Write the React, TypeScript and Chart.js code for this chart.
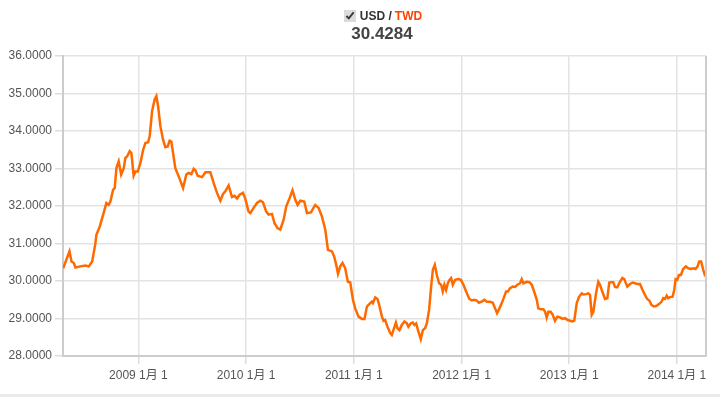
import React, { useEffect, useRef } from "react";
import { Chart, registerables } from "chart.js";

Chart.register(...registerables);

// decimal-year positions of the traced samples
const dates: number[] = [
  2008.302, 2008.36, 2008.379, 2008.4, 2008.416, 2008.462, 2008.508, 2008.539, 2008.571, 2008.601,
  2008.61, 2008.641, 2008.673, 2008.703, 2008.724, 2008.74, 2008.765, 2008.78, 2008.796, 2008.817,
  2008.84, 2008.864, 2008.879, 2008.895, 2008.919, 2008.935, 2008.956, 2008.972, 2008.994, 2009.019,
  2009.044, 2009.065, 2009.09, 2009.105, 2009.127, 2009.151, 2009.167, 2009.183, 2009.204, 2009.229,
  2009.25, 2009.272, 2009.29, 2009.306, 2009.343, 2009.374, 2009.415, 2009.445, 2009.467, 2009.492,
  2009.513, 2009.529, 2009.55, 2009.591, 2009.622, 2009.668, 2009.699, 2009.73, 2009.761, 2009.786,
  2009.807, 2009.838, 2009.869, 2009.891, 2009.916, 2009.94, 2009.971, 2009.993, 2010.023, 2010.039,
  2010.07, 2010.101, 2010.132, 2010.157, 2010.187, 2010.209, 2010.24, 2010.264, 2010.292, 2010.317,
  2010.348, 2010.373, 2010.404, 2010.431, 2010.456, 2010.478, 2010.503, 2010.54, 2010.565, 2010.602,
  2010.642, 2010.673, 2010.704, 2010.735, 2010.76, 2010.797, 2010.818, 2010.837, 2010.853, 2010.874,
  2010.895, 2010.92, 2010.945, 2010.967, 2010.992, 2011.013, 2011.044, 2011.075, 2011.099, 2011.122,
  2011.136, 2011.152, 2011.168, 2011.177, 2011.199, 2011.22, 2011.236, 2011.261, 2011.276, 2011.291,
  2011.313, 2011.338, 2011.353, 2011.368, 2011.391, 2011.405, 2011.424, 2011.446, 2011.47, 2011.493,
  2011.507, 2011.53, 2011.548, 2011.563, 2011.579, 2011.6, 2011.622, 2011.641, 2011.662, 2011.678,
  2011.699, 2011.718, 2011.734, 2011.752, 2011.771, 2011.792, 2011.811, 2011.826, 2011.841, 2011.857,
  2011.873, 2011.888, 2011.904, 2011.919, 2011.941, 2011.971, 2011.994, 2012.018, 2012.043, 2012.073,
  2012.096, 2012.117, 2012.142, 2012.161, 2012.188, 2012.212, 2012.235, 2012.265, 2012.29, 2012.312,
  2012.33, 2012.352, 2012.374, 2012.395, 2012.414, 2012.43, 2012.451, 2012.476, 2012.497, 2012.519,
  2012.544, 2012.559, 2012.574, 2012.606, 2012.63, 2012.652, 2012.674, 2012.699, 2012.713, 2012.736,
  2012.76, 2012.776, 2012.791, 2012.806, 2012.828, 2012.847, 2012.868, 2012.89, 2012.915, 2012.94,
  2012.961, 2012.986, 2013.007, 2013.032, 2013.047, 2013.07, 2013.091, 2013.116, 2013.131, 2013.156,
  2013.177, 2013.193, 2013.209, 2013.224, 2013.249, 2013.27, 2013.286, 2013.307, 2013.332, 2013.354,
  2013.372, 2013.394, 2013.409, 2013.425, 2013.446, 2013.471, 2013.493, 2013.511, 2013.539, 2013.564,
  2013.589, 2013.61, 2013.632, 2013.657, 2013.678, 2013.703, 2013.724, 2013.743, 2013.765, 2013.787,
  2013.812, 2013.836, 2013.858, 2013.873, 2013.889, 2013.905, 2013.919, 2013.935, 2013.96, 2013.975,
  2013.988, 2014.003, 2014.019, 2014.037, 2014.058, 2014.083, 2014.105, 2014.13, 2014.151, 2014.173,
  2014.192, 2014.207, 2014.225, 2014.244, 2014.263,
];

// USD/TWD rate at each sample
const rates: number[] = [
  30.34, 30.79, 30.52, 30.48, 30.36, 30.39, 30.41, 30.39, 30.52, 31.01,
  31.23, 31.45, 31.77, 32.08, 32.03, 32.12, 32.43, 32.48, 33.01, 33.19,
  32.84, 33.01, 33.28, 33.32, 33.46, 33.41, 32.81, 32.92, 32.92, 33.15,
  33.5, 33.68, 33.7, 33.86, 34.53, 34.84, 34.93, 34.66, 34.13, 33.77,
  33.57, 33.59, 33.74, 33.72, 33.01, 32.79, 32.48, 32.84, 32.88, 32.85,
  32.99, 32.95, 32.81, 32.77, 32.9, 32.9, 32.61, 32.35, 32.14, 32.32,
  32.39, 32.55, 32.24, 32.27, 32.2, 32.3, 32.35, 32.19, 31.85, 31.81,
  31.95, 32.08, 32.14, 32.1, 31.85, 31.77, 31.79, 31.54, 31.41, 31.37,
  31.63, 31.99, 32.21, 32.42, 32.17, 32.03, 32.14, 32.12, 31.81, 31.83,
  32.03, 31.95, 31.72, 31.37, 30.83, 30.79, 30.65, 30.43, 30.19, 30.39,
  30.48, 30.34, 29.98, 29.96, 29.5, 29.27, 29.05, 28.99, 28.99, 29.32,
  29.36, 29.41, 29.45, 29.41, 29.56, 29.52, 29.36, 29.05, 28.94, 28.96,
  28.78, 28.61, 28.56, 28.69, 28.89, 28.74, 28.69, 28.83, 28.92, 28.87,
  28.78, 28.87, 28.89, 28.83, 28.87, 28.65, 28.45, 28.69, 28.74, 28.87,
  29.23, 29.85, 30.3, 30.43, 30.16, 29.94, 29.9, 29.72, 29.9, 29.76,
  29.94, 30.03, 30.08, 29.9, 30.03, 30.05, 30.03, 29.9, 29.72, 29.52,
  29.48, 29.5, 29.48, 29.42, 29.45, 29.5, 29.45, 29.45, 29.42, 29.27,
  29.14, 29.27, 29.41, 29.57, 29.72, 29.72, 29.81, 29.85, 29.84, 29.9,
  29.94, 30.05, 29.94, 29.98, 29.97, 29.9, 29.72, 29.5, 29.27, 29.25,
  29.25, 29.18, 29.02, 29.18, 29.18, 29.1, 28.94, 29.05, 29.03, 28.99,
  29.01, 28.96, 28.94, 28.92, 28.94, 29.41, 29.58, 29.67, 29.64, 29.65,
  29.67, 29.63, 29.1, 29.18, 29.67, 29.98, 29.9, 29.72, 29.52, 29.54,
  29.96, 29.97, 29.97, 29.84, 29.83, 29.98, 30.08, 30.05, 29.85, 29.92,
  29.96, 29.94, 29.92, 29.92, 29.78, 29.63, 29.52, 29.48, 29.36, 29.32,
  29.34, 29.39, 29.45, 29.54, 29.52, 29.61, 29.54, 29.57, 29.58, 29.76,
  30.05, 30.03, 30.16, 30.16, 30.32, 30.39, 30.34, 30.32, 30.34, 30.32,
  30.39, 30.52, 30.52, 30.3, 30.12,
];

const yearTicks: number[] = [2009, 2010, 2011, 2012, 2013, 2014];
const xMin = 2008.3;
const xMax = 2014.27;
const yMin = 28;
const yMax = 36;
const currentRate = "30.4284";

const FONT = "Arial, 'Liberation Sans', 'Noto Sans CJK SC', sans-serif";

const framePlugin = {
  id: "frame",
  afterDraw(chart: any) {
    const { ctx, chartArea } = chart;
    ctx.save();
    ctx.strokeStyle = "#cccccc";
    ctx.lineWidth = 2;
    ctx.beginPath();
    ctx.moveTo(chartArea.right, chartArea.top);
    ctx.lineTo(chartArea.right, chartArea.bottom);
    ctx.stroke();
    ctx.fillStyle = "#ebebeb";
    ctx.fillRect(0, chart.height - 3, chart.width, 3);
    ctx.restore();
  },
};

export default function App() {
  const ref = useRef<HTMLCanvasElement>(null);

  useEffect(() => {
    if (!ref.current) return;
    const points = dates.map((d, i) => ({ x: d, y: rates[i] }));
    const chart = new Chart(ref.current, {
      type: "line",
      data: {
        datasets: [
          {
            label: "USD / TWD",
            data: points,
            borderColor: "#ff6a00",
            borderWidth: 2.5,
            pointRadius: 0,
            tension: 0,
            fill: false,
          },
        ],
      },
      options: {
        animation: false,
        responsive: false,
        maintainAspectRatio: false,
        layout: { padding: { top: 56, right: 14, bottom: 5, left: 0 } },
        plugins: {
          legend: { display: false },
          tooltip: { enabled: false },
        },
        scales: {
          x: {
            type: "linear",
            min: xMin,
            max: xMax,
            afterBuildTicks: (scale: any) => {
              scale.ticks = yearTicks.map((v) => ({ value: v }));
            },
            afterFit: (scale: any) => {
              scale.height = 36;
            },
            grid: {
              color: "#e3e3e3",
              lineWidth: 1.5,
              tickLength: 8,
              tickColor: "#dddddd",
            },
            border: { color: "#cccccc", width: 2 },
            ticks: {
              autoSkip: false,
              maxRotation: 0,
              padding: 4,
              color: "#555555",
              font: { family: FONT, size: 12 },
              callback: (v: any) => `${v} 1月 1`,
            },
          },
          y: {
            min: yMin,
            max: yMax,
            afterFit: (scale: any) => {
              scale.width = 63;
            },
            grid: {
              color: "#e3e3e3",
              lineWidth: 1.5,
              tickLength: 8,
              tickColor: "#dddddd",
            },
            border: { color: "#cccccc", width: 2 },
            ticks: {
              stepSize: 1,
              padding: 3,
              color: "#555555",
              font: { family: FONT, size: 12 },
              callback: (v: any) => Number(v).toFixed(4),
            },
          },
        },
      },
      plugins: [framePlugin],
    });
    return () => chart.destroy();
  }, []);

  return (
    <div
      style={{
        position: "fixed",
        left: 0,
        top: 0,
        width: 720,
        height: 397,
        background: "#ffffff",
        fontFamily: FONT,
        overflow: "hidden",
      }}
    >
      <canvas ref={ref} width={720} height={397} style={{ position: "absolute", left: 0, top: 0 }} />
      <div
        style={{
          position: "absolute",
          left: 0,
          top: 9,
          width: 720,
          display: "flex",
          justifyContent: "center",
          alignItems: "center",
          paddingLeft: 46,
          boxSizing: "border-box",
          fontSize: 12,
          fontWeight: "bold",
          color: "#333333",
          lineHeight: "14px",
        }}
      >
        <input
          type="checkbox"
          defaultChecked
          style={{ margin: "0 4px 0 0", width: 12, height: 12, accentColor: "#dcdcdc" }}
        />
        <span>USD / </span>
        <span style={{ color: "#ff4400", marginLeft: 3 }}>TWD</span>
      </div>
      <div
        style={{
          position: "absolute",
          left: 282,
          top: 24,
          width: 200,
          textAlign: "center",
          fontSize: 17,
          fontWeight: "bold",
          color: "#444444",
          lineHeight: "20px",
        }}
      >
        {currentRate}
      </div>
    </div>
  );
}
